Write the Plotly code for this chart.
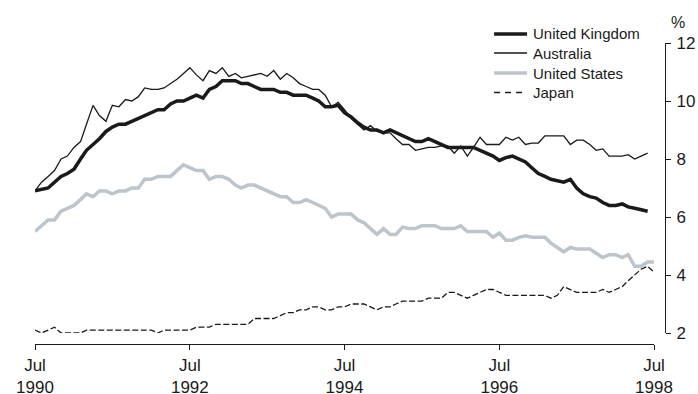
import pandas as pd
import plotly.graph_objects as go

# Monthly observations, Jul 1990 onwards
months = pd.date_range("1990-07-01", "1998-07-01", freq="MS")

united_kingdom = [
    6.9, 6.95, 7.0, 7.2, 7.4, 7.5, 7.65, 8.0, 8.3, 8.5,
    8.7, 8.95, 9.1, 9.2, 9.2, 9.3, 9.4, 9.5, 9.6, 9.7,
    9.7, 9.9, 10.0, 10.0, 10.1, 10.2, 10.1, 10.4, 10.5, 10.7,
    10.7, 10.7, 10.6, 10.6, 10.5, 10.4, 10.4, 10.4, 10.3, 10.3,
    10.2, 10.2, 10.2, 10.1, 10.0, 9.8, 9.8, 9.85, 9.6, 9.45,
    9.25, 9.1, 9.0, 9.0, 8.9, 9.0, 8.9, 8.8, 8.7, 8.6,
    8.6, 8.7, 8.6, 8.5, 8.4, 8.4, 8.4, 8.4, 8.4, 8.3,
    8.2, 8.1, 7.95, 8.05, 8.1, 8.0, 7.9, 7.7, 7.5, 7.4,
    7.3, 7.25, 7.2, 7.3, 7.0, 6.8, 6.7, 6.65, 6.5, 6.4,
    6.4, 6.45, 6.35, 6.3, 6.25, 6.2,
]

australia = [
    6.9, 7.2, 7.4, 7.6, 8.0, 8.1, 8.4, 8.6, 9.2, 9.85,
    9.5, 9.3, 9.85, 9.8, 10.05, 10.0, 10.15, 10.45, 10.4, 10.4,
    10.45, 10.6, 10.75, 10.95, 11.15, 10.9, 10.7, 11.05, 10.95, 11.15,
    10.85, 10.95, 10.8, 10.85, 10.9, 10.95, 10.85, 11.05, 10.75, 10.95,
    10.8, 10.6, 10.5, 10.4, 10.4, 10.2, 9.8, 9.95, 9.7, 9.4,
    9.2, 9.0, 9.15, 8.95, 8.9, 8.9, 8.7, 8.5, 8.5, 8.3,
    8.35, 8.4, 8.4, 8.45, 8.45, 8.2, 8.45, 8.1, 8.4, 8.75,
    8.5, 8.5, 8.5, 8.75, 8.65, 8.75, 8.5, 8.55, 8.55, 8.8,
    8.8, 8.8, 8.8, 8.5, 8.65, 8.65, 8.5, 8.3, 8.35, 8.1,
    8.1, 8.1, 8.15, 8.0, 8.1, 8.2,
]

united_states = [
    5.5, 5.7, 5.9, 5.9, 6.2, 6.3, 6.4, 6.6, 6.8, 6.7,
    6.9, 6.9, 6.8, 6.9, 6.9, 7.0, 7.0, 7.3, 7.3, 7.4,
    7.4, 7.4, 7.6, 7.8, 7.7, 7.6, 7.6, 7.3, 7.4, 7.4,
    7.3, 7.1, 7.0, 7.1, 7.1, 7.0, 6.9, 6.8, 6.7, 6.7,
    6.5, 6.5, 6.6, 6.5, 6.4, 6.3, 6.0, 6.1, 6.1, 6.1,
    5.9, 5.8, 5.6, 5.4, 5.6, 5.4, 5.4, 5.65, 5.6, 5.6,
    5.7, 5.7, 5.7, 5.6, 5.6, 5.6, 5.7, 5.5, 5.5, 5.5,
    5.5, 5.3, 5.45, 5.2, 5.2, 5.3, 5.35, 5.3, 5.3, 5.3,
    5.1, 4.95, 4.8, 4.95, 4.9, 4.9, 4.9, 4.75, 4.6, 4.7,
    4.7, 4.6, 4.7, 4.3, 4.3, 4.45, 4.45,
]

japan = [
    2.1, 2.0, 2.1, 2.2, 2.0, 2.0, 2.0, 2.0, 2.1, 2.1,
    2.1, 2.1, 2.1, 2.1, 2.1, 2.1, 2.1, 2.1, 2.1, 2.0,
    2.1, 2.1, 2.1, 2.1, 2.1, 2.2, 2.2, 2.2, 2.3, 2.3,
    2.3, 2.3, 2.3, 2.3, 2.5, 2.5, 2.5, 2.5, 2.6, 2.7,
    2.7, 2.8, 2.8, 2.9, 2.9, 2.8, 2.8, 2.9, 2.9, 3.0,
    3.0, 3.0, 2.9, 2.8, 2.9, 2.9, 3.0, 3.1, 3.1, 3.1,
    3.1, 3.2, 3.2, 3.2, 3.4, 3.4, 3.3, 3.2, 3.3, 3.4,
    3.5, 3.5, 3.4, 3.3, 3.3, 3.3, 3.3, 3.3, 3.3, 3.3,
    3.2, 3.3, 3.6, 3.5, 3.4, 3.4, 3.4, 3.4, 3.5, 3.4,
    3.5, 3.6, 3.8, 4.0, 4.2, 4.3, 4.1,
]

x_tick_dates = ["1990-07-01", "1992-07-01", "1994-07-01", "1996-07-01", "1998-07-01"]
x_tick_labels = ["Jul<br>1990", "Jul<br>1992", "Jul<br>1994", "Jul<br>1996", "Jul<br>1998"]
y_ticks = [2, 4, 6, 8, 10, 12]

FONT = "Liberation Sans, Arial, sans-serif"
INK = "#1a1a1a"
GREY = "#bcc5cc"

series = [
    # name, values, colour, width, dash (plot), dash (key)
    ("United Kingdom", united_kingdom, INK, 3.5, "solid", "solid"),
    ("Australia", australia, INK, 1.3, "solid", "solid"),
    ("United States", united_states, GREY, 3.5, "solid", "solid"),
    ("Japan", japan, INK, 1.3, "6px,2.5px", "6px,5px"),
]

fig = go.Figure()

# Grey and dashed series underneath, heavy UK line on top
for idx in [2, 3, 1, 0]:
    name, vals, col, wid, dash, _ = series[idx]
    fig.add_trace(go.Scatter(
        x=months[:len(vals)], y=vals, name=name, mode="lines",
        line=dict(color=col, width=wid, dash=dash), showlegend=False,
    ))

W, H = 698, 394
left, right, top, bottom = 34.7, 33, 43.3, 49.7
plot_w = W - left - right
plot_h = H - top - bottom
x_end = (654 - left) / plot_w          # x data ends short of the right-hand y axis
y_start = (344.3 - 333.3) / plot_h     # gap between x axis and the value 2


def px_x(px):
    return (px - left) / plot_w


def px_y(py):
    return 1 - (py - top) / plot_h


# Key in the top right corner
shapes, annotations = [], []
key_rows = [34.3, 53.3, 73.3, 92.8]
for (name, _, col, wid, _, key_dash), row in zip(series, key_rows):
    shapes.append(dict(
        type="line", xref="paper", yref="paper",
        x0=px_x(494), x1=px_x(527), y0=px_y(row), y1=px_y(row),
        line=dict(color=col, width=wid, dash=key_dash),
    ))
    annotations.append(dict(
        text=name, xref="paper", yref="paper",
        x=px_x(531), y=px_y(row), xanchor="left", yanchor="middle",
        showarrow=False, font=dict(size=15, color=INK),
    ))

annotations.append(dict(
    text="%", xref="paper", yref="paper",
    x=px_x(678.5), y=px_y(23), xanchor="center", yanchor="middle",
    showarrow=False, font=dict(size=16, color=INK),
))

fig.update_layout(
    width=W, height=H,
    margin=dict(l=left, r=right, t=top, b=bottom, pad=0),
    paper_bgcolor="white", plot_bgcolor="white",
    font=dict(family=FONT, size=17, color=INK),
    showlegend=False,
    xaxis=dict(
        domain=[0, x_end],
        range=["1990-07-01", "1998-07-01"],
        anchor="free", position=0, automargin=False,
        showgrid=False, zeroline=False,
        showline=True, linecolor=INK, linewidth=1.3,
        ticks="outside", ticklen=5, tickwidth=1.3, tickcolor=INK,
        tickvals=x_tick_dates, ticktext=x_tick_labels,
        tickfont=dict(size=17),
    ),
    yaxis=dict(
        domain=[y_start, 1],
        range=[2, 12],
        anchor="free", position=1, side="right", automargin=False,
        showgrid=False, zeroline=False,
        showline=True, linecolor=INK, linewidth=1.3,
        ticks="outside", ticklen=5, tickwidth=1.3, tickcolor=INK,
        tickvals=y_ticks,
        tickfont=dict(size=17), ticklabelstandoff=2,
    ),
    shapes=shapes,
    annotations=annotations,
)

fig.write_html("out.html")
